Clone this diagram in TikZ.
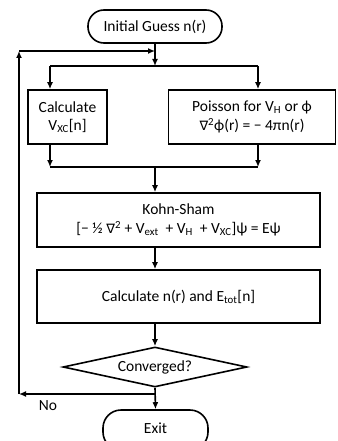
\documentclass[tikz,border=0pt]{standalone}
\usepackage{fontspec}
\setmainfont{Carlito}
\newfontfamily\symf{DejaVu Sans}
\usetikzlibrary{shapes.geometric,arrows.meta}
\newcommand{\sbs}[1]{\textsubscript{#1}}
\begin{document}
\begin{tikzpicture}[x=1pt,y=-1pt,
  line width=1.6pt,
  arr/.style={-{Latex[length=7pt,width=6pt]}},
  txt/.style={font=\fontsize{15.5}{18.5}\selectfont},
  box/.style={draw,rectangle,inner sep=0pt,align=center,txt},
  term/.style={draw,rectangle,rounded corners=16pt,inner sep=0pt,txt},
  dec/.style={draw,diamond,inner sep=0pt,shape aspect=4.6,txt}]
\useasboundingbox (0,0) rectangle (337,441);
\node[term,minimum width=134pt,minimum height=33pt] (init) at (155,26.5) {Initial Guess n(r)};
\node[box,minimum width=79pt,minimum height=54pt] (calc) at (67.5,117) {Calculate\\V\sbs{XC}[n]};
\node[box,minimum width=167pt,minimum height=54pt] (pois) at (252,117) {Poisson for V\sbs{H} or ϕ\\{\symf\fontsize{13}{15}\selectfont ∇}\textsuperscript{2}ϕ(r) = − 4πn(r)};
\node[box,minimum width=283pt,minimum height=54pt] (ks) at (178.5,220) {Kohn-Sham\\{}[− ½ {\symf\fontsize{13}{15}\selectfont ∇}\textsuperscript{2} + V\sbs{ext} \ + V\sbs{H} \ + V\sbs{XC}]ψ = Eψ};
\node[box,minimum width=283pt,minimum height=53pt] (calcn) at (178.5,296.5) {Calculate n(r) and E\sbs{tot}[n]};
\node[dec,minimum width=184pt,minimum height=40pt] (conv) at (155,367) {Converged?};
\node[term,minimum width=105pt,minimum height=40pt,rounded corners=18pt] (exit) at (155.5,430) {};
\node[txt] (exittxt) at (155.5,428) {Exit};
\node[txt] (no) at (48,406) {No};
\coordinate (split) at (155,66);
\coordinate (sl) at (50,66);
\coordinate (sr) at (258,66);
\coordinate (ml) at (50,167);
\coordinate (mr) at (258,167);
\coordinate (mm) at (155,167);
\coordinate (loopin) at (155,51);
\coordinate (lt) at (19,51);
\coordinate (lb) at (19,394);
\coordinate (nojoin) at (155,394);
% split
\draw[arr] (init.south) -- (split);
\draw (sl) -- (sr);
\draw[arr] (sl) -- (calc.north -| sl);
\draw[arr] (sr) -- (pois.north -| sr);
% merge
\draw[arr] (calc.south -| ml) -- (ml);
\draw[arr] (pois.south -| mr) -- (mr);
\draw (ml) -- (mr);
\draw[arr] (mm) -- (ks.north -| mm);
\draw[arr] (ks.south -| mm) -- (calcn.north -| mm);
\draw[arr] (calcn.south -| mm) -- (conv.north);
\draw[arr] (conv.south) -- (exit.north);
% loop
\draw[arr] (nojoin) -- (lb);
\draw[arr] (lb) -- (lt);
\draw[arr] (lt) -- (loopin);
\end{tikzpicture}
\end{document}
